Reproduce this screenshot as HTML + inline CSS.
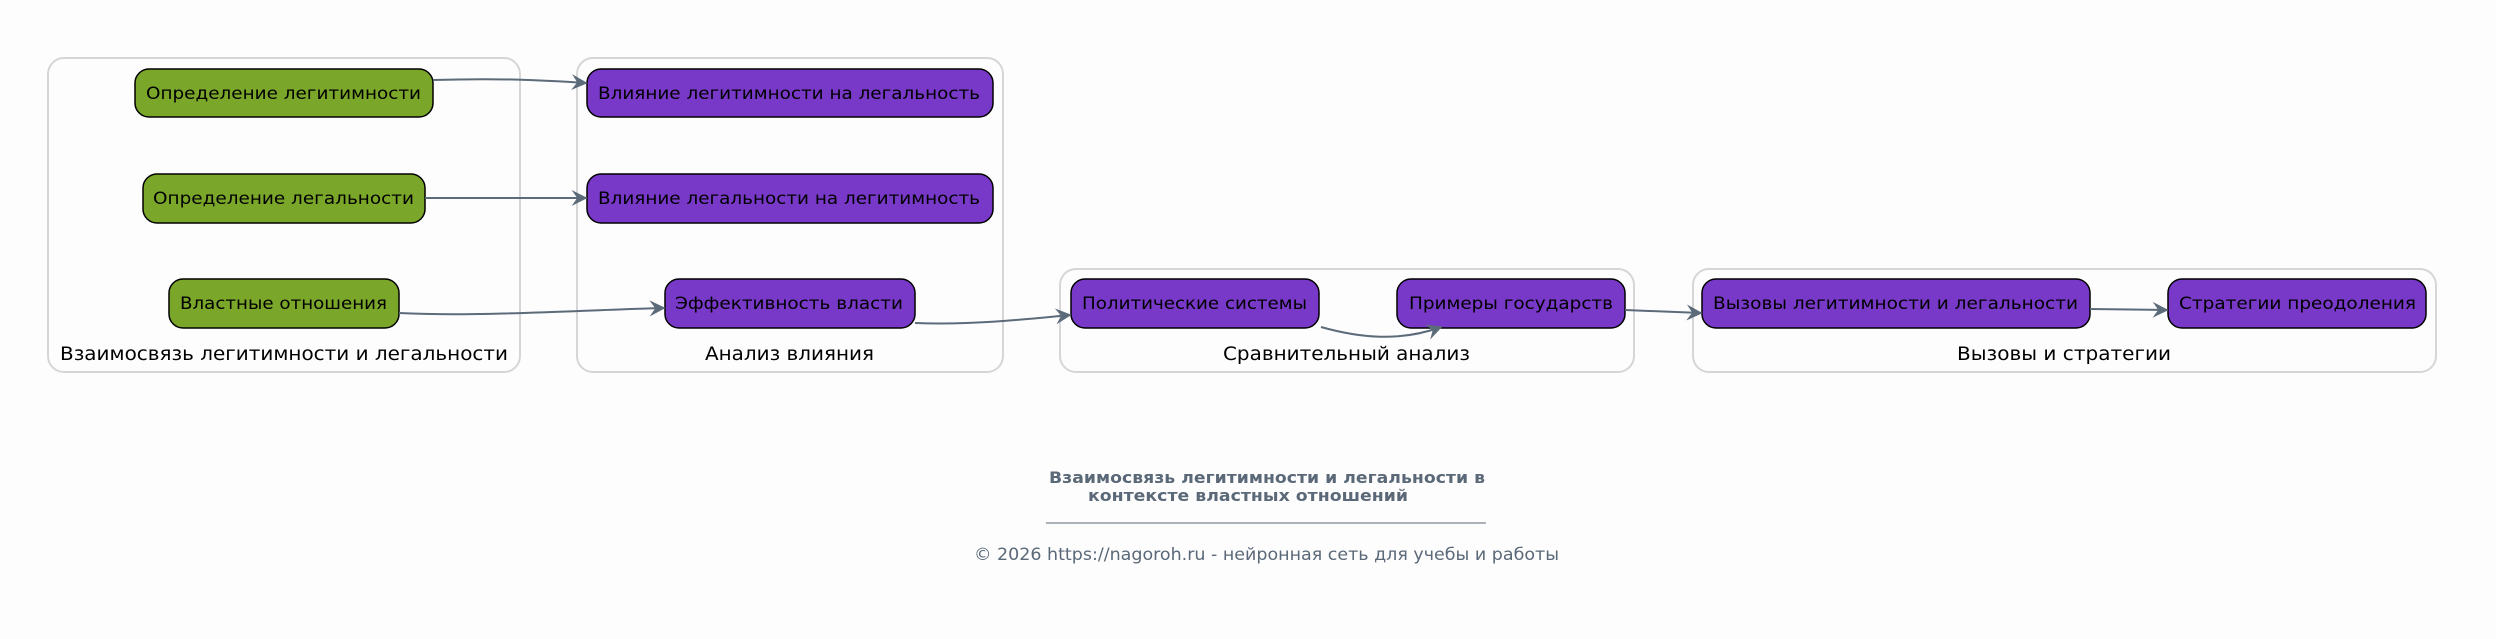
<!DOCTYPE html>
<html><head><meta charset="utf-8"><style>html,body{margin:0;padding:0;background:#fdfdfd}svg{display:block}</style></head>
<body>
<svg width="2496" height="639" viewBox="0 0 2496 639" xmlns="http://www.w3.org/2000/svg" font-family="'DejaVu Sans','Liberation Sans',sans-serif">
<defs><marker id="a" viewBox="0 0 10 10" refX="9" refY="5" markerWidth="16" markerHeight="16" markerUnits="userSpaceOnUse" orient="auto"><path d="M0,0 L10,5 L0,10 L3.5,5 z" fill="#5c6b7a"/></marker></defs>
<rect width="2496" height="639" fill="#fdfdfd"/>
<g fill="none" stroke="#d6d6d6" stroke-width="2">
<rect x="48" y="58" width="472" height="314" rx="16"/>
<rect x="577" y="58" width="426" height="314" rx="16"/>
<rect x="1060" y="269" width="574" height="103" rx="16"/>
<rect x="1693" y="269" width="743" height="103" rx="16"/>
</g>
<g stroke="#000" stroke-width="1.5">
<rect x="135" y="69" width="298" height="48" rx="14" fill="#7aa62a"/>
<rect x="143" y="174" width="282" height="49" rx="14" fill="#7aa62a"/>
<rect x="169" y="279" width="230" height="49" rx="14" fill="#7aa62a"/>
<rect x="587" y="69" width="406" height="48" rx="14" fill="#7838c8"/>
<rect x="587" y="174" width="406" height="49" rx="14" fill="#7838c8"/>
<rect x="665" y="279" width="250" height="49" rx="14" fill="#7838c8"/>
<rect x="1071" y="279" width="248" height="49" rx="14" fill="#7838c8"/>
<rect x="1397" y="279" width="228" height="49" rx="14" fill="#7838c8"/>
<rect x="1702" y="279" width="388" height="49" rx="14" fill="#7838c8"/>
<rect x="2168" y="279" width="258" height="49" rx="14" fill="#7838c8"/>
</g>
<g fill="none" stroke="#5c6b7a" stroke-width="2" marker-end="url(#a)">
<path d="M433,80 C500,78 540,80 586,83"/>
<path d="M425,198 L586,198"/>
<path d="M399,313 C480,317 580,310 664,308"/>
<path d="M915,323 C970,325 1020,320 1070,315"/>
<path d="M1321,327 C1360,338 1400,342 1441,327"/>
<path d="M1625,310 L1701,313"/>
<path d="M2090,309 L2167,310"/>
</g>
<g font-size="17" fill="#000">
<text x="146" y="99" textLength="275" lengthAdjust="spacingAndGlyphs">Определение легитимности</text>
<text x="153" y="204" textLength="261" lengthAdjust="spacingAndGlyphs">Определение легальности</text>
<text x="180" y="309" textLength="207" lengthAdjust="spacingAndGlyphs">Властные отношения</text>
<text x="598" y="99" textLength="382" lengthAdjust="spacingAndGlyphs">Влияние легитимности на легальность</text>
<text x="598" y="204" textLength="382" lengthAdjust="spacingAndGlyphs">Влияние легальности на легитимность</text>
<text x="675" y="309" textLength="228" lengthAdjust="spacingAndGlyphs">Эффективность власти</text>
<text x="1082" y="309" textLength="225" lengthAdjust="spacingAndGlyphs">Политические системы</text>
<text x="1409" y="309" textLength="204" lengthAdjust="spacingAndGlyphs">Примеры государств</text>
<text x="1713" y="309" textLength="365" lengthAdjust="spacingAndGlyphs">Вызовы легитимности и легальности</text>
<text x="2179" y="309" textLength="237" lengthAdjust="spacingAndGlyphs">Стратегии преодоления</text>
</g>
<g font-size="19" fill="#000">
<text x="60" y="360" textLength="448" lengthAdjust="spacingAndGlyphs">Взаимосвязь легитимности и легальности</text>
<text x="705" y="360" textLength="169" lengthAdjust="spacingAndGlyphs">Анализ влияния</text>
<text x="1223" y="360" textLength="247" lengthAdjust="spacingAndGlyphs">Сравнительный анализ</text>
<text x="1957" y="360" textLength="214" lengthAdjust="spacingAndGlyphs">Вызовы и стратегии</text>
</g>
<g fill="#5a6878" font-size="16" font-weight="bold">
<text x="1049" y="483" textLength="436" lengthAdjust="spacingAndGlyphs">Взаимосвязь легитимности и легальности в</text>
<text x="1088" y="501" textLength="320" lengthAdjust="spacingAndGlyphs">контексте властных отношений</text>
</g>
<line x1="1046" y1="523" x2="1486" y2="523" stroke="#5a6878" stroke-width="1"/>
<text x="974" y="560" font-size="17" fill="#5a6878" textLength="585" lengthAdjust="spacingAndGlyphs">© 2026 https://nagoroh.ru - нейронная сеть для учебы и работы</text>
</svg>
</body></html>
